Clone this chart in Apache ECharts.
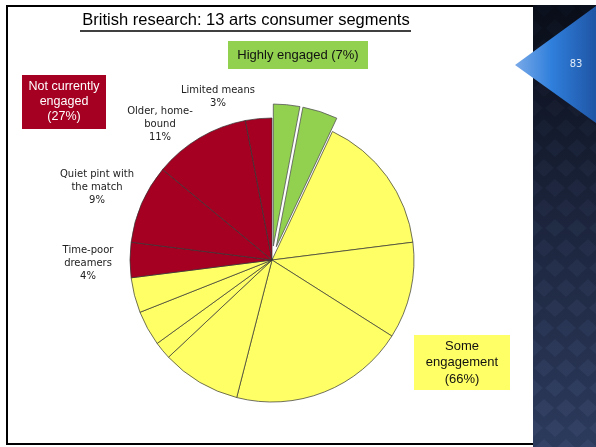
<!DOCTYPE html>
<html>
<head>
<meta charset="utf-8">
<script src="https://cdn.jsdelivr.net/npm/echarts@6/dist/echarts.min.js"></script>
<style>
  html, body { margin: 0; padding: 0; background: #fff; }
  #main { width: 596px; height: 447px; }
</style>
</head>
<body>
<div id="main"></div>
<script>
// 13 segments, clockwise from 12 o'clock
const segNames = ['Highly engaged 1', 'Highly engaged 2',
  'Some engagement 1', 'Some engagement 2', 'Some engagement 3', 'Some engagement 4',
  'Some engagement 5', 'Some engagement 6', 'Some engagement 7',
  'Time-poor dreamers', 'Quiet pint with the match', 'Older, home-bound', 'Limited means']
const segValues = [3, 4, 16, 11, 20, 9, 2, 4, 4, 4, 9, 11, 3]
const segGroups = ['high', 'high', 'some', 'some', 'some', 'some', 'some', 'some', 'some',
  'not', 'not', 'not', 'not']
const groupColors = { high: '#92D050', some: '#FFFF66', not: '#A50021' }
// labelled segments (index into segNames) and their label text
const labelIdx = [12, 11, 10, 9]
const labelText = ['Limited means', 'Older, home-\nbound', 'Quiet pint with\nthe match', 'Time-poor\ndreamers']
const labelPos = [[218, 97], [160, 124], [97, 187], [88, 263]]

const FONT = 'DejaVu Sans'
const FONT2 = 'Liberation Sans'

function groupTotal(g) {
  let s = 0
  segValues.forEach((v, i) => { if (segGroups[i] === g) s += v })
  return s
}

let myChart = echarts.init(document.getElementById('main'))

let pieData = segValues.map((v, i) => {
  let c = groupColors[segGroups[i]]
  return {
    name: segNames[i],
    value: v,
    selected: segGroups[i] === 'high',
    itemStyle: { color: c },
    select: { itemStyle: { color: c, borderColor: '#555', borderWidth: 0.8 } }
  }
})

// right-hand decorative panel
let panel = [{
  type: 'rect',
  shape: { x: 520, y: 5, width: 76, height: 442 },
  style: {
    fill: new echarts.graphic.LinearGradient(0, 0, 0, 1, [
      { offset: 0, color: '#090d18' },
      { offset: 0.5, color: '#1c253d' },
      { offset: 1, color: '#2c3a5c' }
    ])
  }
}]
for (let row = 0; row < 23; row++) {
  for (let col = 0; col < 5; col++) {
    let cx = 522 + col * 22 + (row % 2 ? 11 : 0)
    let cy = 8 + row * 20
    panel.push({
      type: 'polygon',
      shape: { points: [[cx, cy - 9], [cx + 10, cy], [cx, cy + 9], [cx - 10, cy]] },
      style: { fill: 'rgba(110,130,180,' + (0.03 + 0.09 * row / 22).toFixed(3) + ')' }
    })
  }
}
// white slide area over the pattern
panel.push({ type: 'rect', shape: { x: 0, y: 0, width: 533, height: 447 }, style: { fill: '#fff' } })
panel.push({ type: 'rect', shape: { x: 533, y: 0, width: 63, height: 5 }, style: { fill: '#fff' } })
panel.push({
  type: 'polygon',
  shape: { points: [[515, 65], [596, 6], [596, 123]] },
  style: {
    fill: new echarts.graphic.LinearGradient(0, 0, 1, 0, [
      { offset: 0, color: '#7aaae8' },
      { offset: 0.45, color: '#2f7fdc' },
      { offset: 1, color: '#1f55a5' }
    ])
  }
})
panel.push({
  type: 'text', x: 576, y: 64,
  style: { text: '83', fill: '#e2ebf7', font: '10px ' + FONT, align: 'center', verticalAlign: 'middle' }
})

let labels = labelIdx.map((idx, k) => ({
  type: 'text', x: labelPos[k][0], y: labelPos[k][1],
  style: {
    text: labelText[k] + '\n' + segValues[idx] + '%',
    fill: '#222', font: '10px ' + FONT, lineHeight: 13,
    align: 'center', verticalAlign: 'middle'
  }
}))

function box(x, y, w, h, fill, text, color, size, lh) {
  return [{
    type: 'rect', shape: { x: x, y: y, width: w, height: h }, style: { fill: fill }
  }, {
    type: 'text', x: x + w / 2, y: y + h / 2,
    style: { text: text, fill: color, font: size + 'px ' + FONT2, lineHeight: lh, align: 'center', verticalAlign: 'middle' }
  }]
}

let option = {
  backgroundColor: '#fff',
  animation: false,
  graphic: [
    ...panel,
    // slide frame
    { type: 'polyline', shape: { points: [[533, 6], [7, 6], [7, 444], [533, 444]] },
      style: { stroke: '#000', lineWidth: 2, fill: null } },
    // title
    { type: 'text', x: 246, y: 20,
      style: { text: 'British research: 13 arts consumer segments', fill: '#000',
        font: '16.5px ' + FONT2, align: 'center', verticalAlign: 'middle' } },
    { type: 'line', shape: { x1: 80, y1: 31, x2: 411, y2: 31 }, style: { stroke: '#000', lineWidth: 1.5 } },
    ...box(228, 41, 140, 28, groupColors.high, 'Highly engaged (' + groupTotal('high') + '%)', '#111', 13, 16),
    ...box(22, 75, 84, 54, groupColors.not, 'Not currently\nengaged\n(' + groupTotal('not') + '%)', '#fff', 12.5, 15),
    ...box(414, 335, 96, 55, groupColors.some, 'Some\nengagement\n(' + groupTotal('some') + '%)', '#111', 13, 16.5),
    ...labels
  ],
  series: [{
    type: 'pie',
    center: [272, 260],
    radius: 142,
    startAngle: 90,
    clockwise: true,
    selectedMode: 'multiple',
    selectedOffset: 14,
    silent: true,
    label: { show: false },
    labelLine: { show: false },
    itemStyle: { borderColor: '#333', borderWidth: 0.7 },
    emphasis: { disabled: true },
    data: pieData
  }]
}

myChart.setOption(option)
</script>
</body>
</html>
